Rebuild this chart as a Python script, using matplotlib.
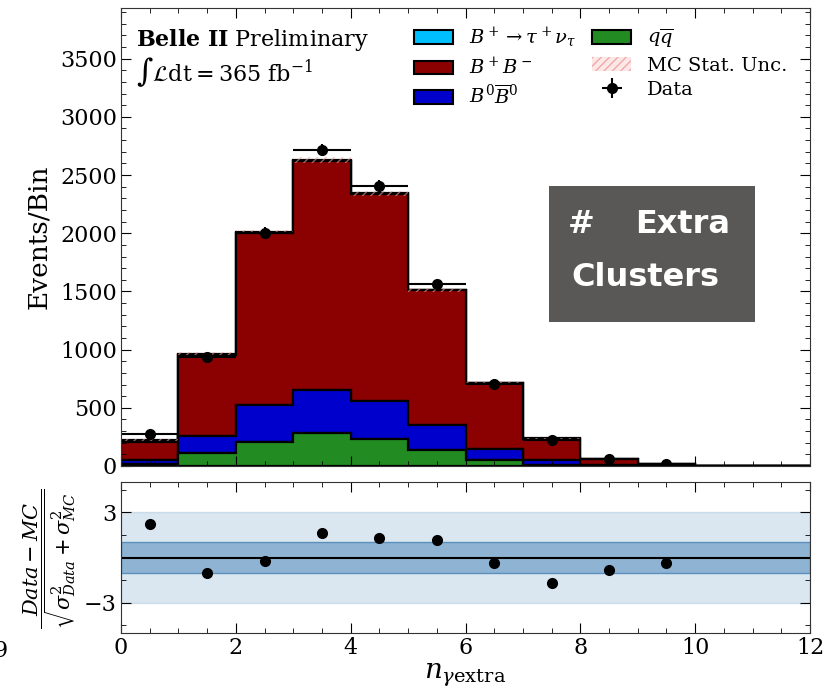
import numpy as np
import matplotlib
matplotlib.use("Agg")
import matplotlib.pyplot as plt
import matplotlib.patches as patches
from matplotlib.ticker import MultipleLocator

plt.rcParams['font.family'] = 'DejaVu Serif'
plt.rcParams['mathtext.fontset'] = 'dejavuserif'

## Histogram binning: number of extra photon clusters
edges = np.arange(0, 13)
centers = edges[:-1] + 0.5

## MC components (events per bin)
qq = [20, 108, 208, 280, 228, 137, 51, 8, 3, 1, 0, 0]
b0b0 = [35, 152, 314, 371, 331, 214, 95, 42, 5, 2, 0, 0]
bpbm = [153, 694, 1484, 1973, 1781, 1162, 569, 186, 55, 17, 0, 0]
sig = [14, 10, 6, 4, 3, 2, 1, 1, 0, 0, 0, 0]
mc_unc = [8, 14, 20, 24, 22, 18, 12, 7, 4, 2, 0, 0]

## Data points and pulls (first 10 bins)
data = [274, 936, 2006, 2714, 2406, 1564, 708, 222, 57, 18]
pull = [2.19, -1.04, -0.20, 1.63, 1.26, 1.17, -0.38, -1.68, -0.82, -0.35]

labels = [r"$q\overline{q}$", r"$B^0\overline{B}^0$", r"$B^+B^-$",
          r"$B^+\rightarrow\tau^+\nu_\tau$"]
colors = ["forestgreen", "mediumblue", "darkred", "deepskyblue"]

W, H = 827, 692
fig = plt.figure(figsize=(W/100, H/100), dpi=100)
ax = fig.add_axes([121/W, 1-466/H, 689/W, 458/H])
axr = fig.add_axes([121/W, 1-633/H, 689/W, 151/H])

# stacked MC
ax.hist([centers]*4, bins=edges, weights=[qq, b0b0, bpbm, sig], stacked=True,
        histtype='stepfilled', color=colors, edgecolor='black', linewidth=1.6)

total = np.array(qq) + np.array(b0b0) + np.array(bpbm) + np.array(sig)
unc = np.array(mc_unc)
ax.bar(centers, 2*unc, bottom=total-unc, width=1.0, color='none',
       edgecolor='#f2a0a0', hatch='////', linewidth=0, alpha=0.6)

n = len(data)
eb = ax.errorbar(centers[:n], data, xerr=0.5, yerr=np.sqrt(data), fmt='o',
                 color='black', ms=7, lw=1.5, capsize=0)

ax.set_xlim(0, 12)
ax.set_ylim(0, 1.45*max(data))
ax.yaxis.set_major_locator(MultipleLocator(500))
ax.yaxis.set_minor_locator(MultipleLocator(100))
ax.xaxis.set_major_locator(MultipleLocator(2))
ax.xaxis.set_minor_locator(MultipleLocator(0.5))
ax.tick_params(labelbottom=False)

# legend
h = [patches.Patch(facecolor=colors[3], edgecolor='black', lw=1.5, label=labels[3]),
     patches.Patch(facecolor=colors[2], edgecolor='black', lw=1.5, label=labels[2]),
     patches.Patch(facecolor=colors[1], edgecolor='black', lw=1.5, label=labels[1]),
     patches.Patch(facecolor=colors[0], edgecolor='black', lw=1.5, label=labels[0]),
     patches.Patch(facecolor='#fde8e8', edgecolor='#f2a8a8', hatch='////', lw=0,
                   label="MC Stat. Unc."),
     eb]
hl = [x.get_label() for x in h[:5]] + ["Data"]
ax.legend(h, hl, ncol=2, loc='upper left', bbox_to_anchor=(0.403, 0.995),
          frameon=False, fontsize=14, borderpad=0.3, handlelength=2.0,
          handletextpad=0.8, columnspacing=0.85, labelspacing=0.32)

ax.text(0.022, 0.918, r"$\bf{Belle\ II}$ Preliminary", transform=ax.transAxes,
        fontsize=16, va='baseline')
ax.text(0.022, 0.84, r"$\int\mathcal{L}\mathrm{dt} = 365\ \mathrm{fb}^{-1}$",
        transform=ax.transAxes, fontsize=16, va='baseline')

fig.text(39/W, 1-237/H, "Events/Bin", rotation=90, ha='center', va='center',
         fontsize=19)

# ratio / pull panel
axr.axhspan(-3, 3, color='steelblue', alpha=0.2, lw=1)
axr.axhspan(-1, 1, facecolor=(0.27, 0.51, 0.71, 0.5), edgecolor=(0.27, 0.51, 0.71, 0.8), lw=1)
axr.axhline(0, color='black', lw=1.5)
axr.plot(centers[:n], pull, 'o', color='black', ms=7)
axr.set_xlim(0, 12)
axr.set_ylim(-5, 5)
axr.set_yticks([-3, 3])
axr.yaxis.set_minor_locator(MultipleLocator(1.5))
axr.xaxis.set_major_locator(MultipleLocator(2))
axr.xaxis.set_minor_locator(MultipleLocator(0.5))
axr.set_xlabel(r"$n_{\gamma \mathrm{extra}}$", fontsize=20, labelpad=2)

fig.text(50/W, 1-559/H, r"$\dfrac{Data-MC}{\sqrt{\sigma^2_{Data}+\sigma^2_{MC}}}$",
         rotation=90, ha='center', va='center', fontsize=15)
fig.text(8/W, 1-657/H, "9", ha='right', va='baseline', fontsize=16)

for a in (ax, axr):
    a.tick_params(which='both', direction='in', top=True, right=True,
                  labelsize=16, pad=3)
    a.tick_params(which='major', length=7)
    a.tick_params(which='minor', length=3.5)
    for s in a.spines.values():
        s.set_edgecolor('#333333')

# grey annotation box
fig.add_artist(patches.Rectangle((549/W, 1-322/H), 206/W, 136/H,
                                 transform=fig.transFigure, facecolor='#5a5856',
                                 edgecolor='none'))
fig.text(568/W, 1-233/H, "#", color='white', fontsize=23, fontweight='bold',
         family='DejaVu Sans', va='baseline')
fig.text(635/W, 1-233/H, "Extra", color='white', fontsize=23, fontweight='bold',
         family='DejaVu Sans', va='baseline')
fig.text(571/W, 1-286/H, "Clusters", color='white', fontsize=23, fontweight='bold',
         family='DejaVu Sans', va='baseline')

fig.savefig("out.png", dpi=100)
